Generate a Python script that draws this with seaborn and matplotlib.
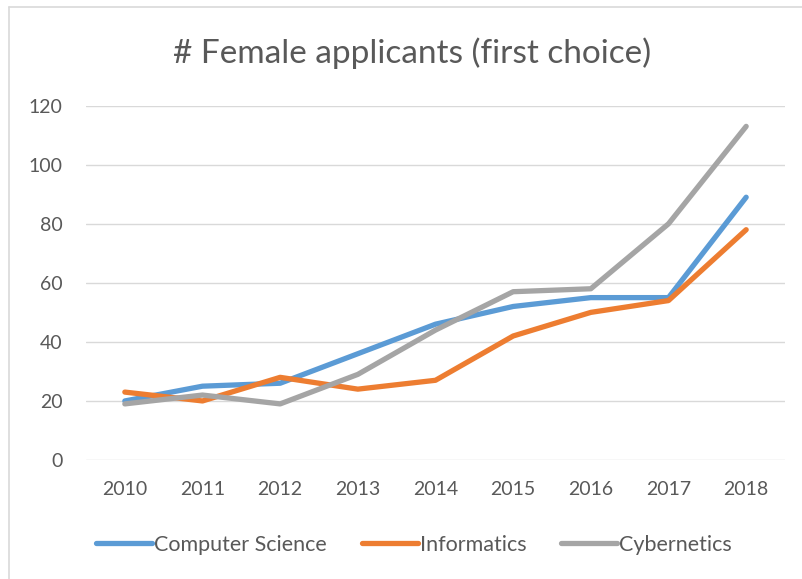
import pandas as pd
import matplotlib.pyplot as plt
import seaborn as sns
from matplotlib.lines import Line2D

years = [2010, 2011, 2012, 2013, 2014, 2015, 2016, 2017, 2018]
computer_science = [20, 25, 26, 36, 46, 52, 55, 55, 89]
informatics = [23, 20, 28, 24, 27, 42, 50, 54, 78]
cybernetics = [19, 22, 19, 29, 44, 57, 58, 80, 113]
series_names = ["Computer Science", "Informatics", "Cybernetics"]
colors = ["#5B9BD5", "#ED7D31", "#A5A5A5"]

df = pd.DataFrame({
    "year": years * 3,
    "value": computer_science + informatics + cybernetics,
    "series": [s for s in series_names for _ in years],
})

sns.set_style("white")
plt.rcParams["font.family"] = ["Lato", "DejaVu Sans"]
text_color = "#595959"

fig = plt.figure(figsize=(8.02, 5.79), dpi=100)
ax = fig.add_axes([86 / 802, 1 - 460 / 579, 699 / 802, (460 - 105.7) / 579])

sns.lineplot(data=df, x="year", y="value", hue="series", palette=colors,
             hue_order=series_names, linewidth=3.8, ax=ax, legend=False)
for line in ax.get_lines():
    line.set_solid_capstyle("round")
    line.set_solid_joinstyle("round")

ax.set_xlim(2009.5, 2018.5)
ax.set_ylim(0, 120)
ax.set_xticks(years)
ax.set_yticks(range(0, 121, 20))
ax.set_xlabel("")
ax.set_ylabel("")
ax.yaxis.grid(True, color="#D9D9D9", linewidth=1.0)
ax.set_axisbelow(True)
for s in ax.spines.values():
    s.set_visible(False)
ax.tick_params(axis="both", length=0, labelsize=14, colors=text_color)
ax.tick_params(axis="y", pad=17)
ax.tick_params(axis="x", pad=15)

fig.text(412 / 802, 1 - 53 / 579, "# Female applicants (first choice)",
         ha="center", va="center", fontsize=24, color=text_color)

handles = [Line2D([0], [0], color=c, linewidth=3.8, solid_capstyle="round") for c in colors]
leg = fig.legend(handles, series_names, loc="center", bbox_to_anchor=(414 / 802, 1 - 545 / 579),
                 ncol=3, frameon=False, fontsize=15.5, handlelength=2.6, handletextpad=0.1,
                 columnspacing=1.6, labelcolor=text_color)

# chart-area border (left and top edges visible in the original crop)
fig.add_artist(Line2D([9 / 802, 9 / 802], [0, 1 - 7 / 579], transform=fig.transFigure,
                      color="#D9D9D9", linewidth=1.2))
fig.add_artist(Line2D([9 / 802, 1], [1 - 7 / 579, 1 - 7 / 579], transform=fig.transFigure,
                      color="#D9D9D9", linewidth=1.2))

fig.savefig("out.png", dpi=100)
